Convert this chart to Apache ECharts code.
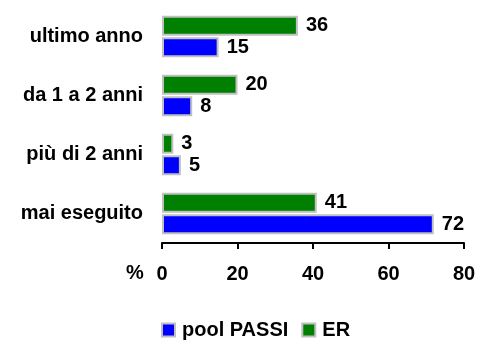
<!DOCTYPE html>
<html><head><meta charset="utf-8">
<script src="https://cdn.jsdelivr.net/npm/echarts@6/dist/echarts.min.js"></script>
<style>html,body{margin:0;padding:0;background:#fff}#c{width:483px;height:343px}</style>
</head><body><div id="c"></div>
<script>
const categories = ['ultimo anno', 'da 1 a 2 anni', 'più di 2 anni', 'mai eseguito'];
const erValues = [36, 20, 3, 41];
const poolValues = [15, 8, 5, 72];
const xTicks = [0, 20, 40, 60, 80];

const FONT = 'Liberation Sans, Arial, sans-serif';
const FS = 20;
const chart = echarts.init(document.getElementById('c'), null, {renderer: 'canvas'});
const lbl = {show: true, position: 'right', distance: 8, color: '#000', fontWeight: 'bold', fontSize: FS, fontFamily: FONT};
chart.setOption({
  animation: false,
  grid: {left: 162, right: 19, top: 7, bottom: 100, containLabel: false},
  xAxis: {
    type: 'value', min: xTicks[0], max: xTicks[xTicks.length - 1], interval: 20,
    splitLine: {show: false},
    axisLine: {show: true, lineStyle: {color: '#000', width: 2}},
    axisTick: {show: true, length: 6, lineStyle: {color: '#000', width: 2}},
    axisLabel: {margin: 21, color: '#000', fontWeight: 'bold', fontSize: FS, fontFamily: FONT}
  },
  yAxis: {
    type: 'category', data: categories, inverse: true,
    axisLine: {show: false}, axisTick: {show: false},
    axisLabel: {margin: 19, color: '#000', fontWeight: 'bold', fontSize: FS, fontFamily: FONT}
  },
  legend: {
    data: ['pool PASSI', 'ER'], left: 161, top: 320, padding: 0, icon: 'rect',
    itemWidth: 13, itemHeight: 13, itemGap: 13,
    itemStyle: {borderColor: '#c0c0c0', borderWidth: 2},
    textStyle: {color: '#000', fontWeight: 'bold', fontSize: FS, fontFamily: FONT, padding: [0, 0, 0, 2]}
  },
  graphic: [{type: 'text', left: 126, top: 263, style: {text: '%', fill: '#000', font: 'bold ' + FS + 'px ' + FONT}}],
  series: [
    {name: 'ER', type: 'bar', data: erValues, barWidth: 20, barGap: '8%',
     itemStyle: {color: '#008000', borderColor: '#c0c0c0', borderWidth: 2}, label: lbl},
    {name: 'pool PASSI', type: 'bar', data: poolValues, barWidth: 20, barGap: '8%',
     itemStyle: {color: '#0000ff', borderColor: '#c0c0c0', borderWidth: 2}, label: lbl}
  ]
});
</script></body></html>
